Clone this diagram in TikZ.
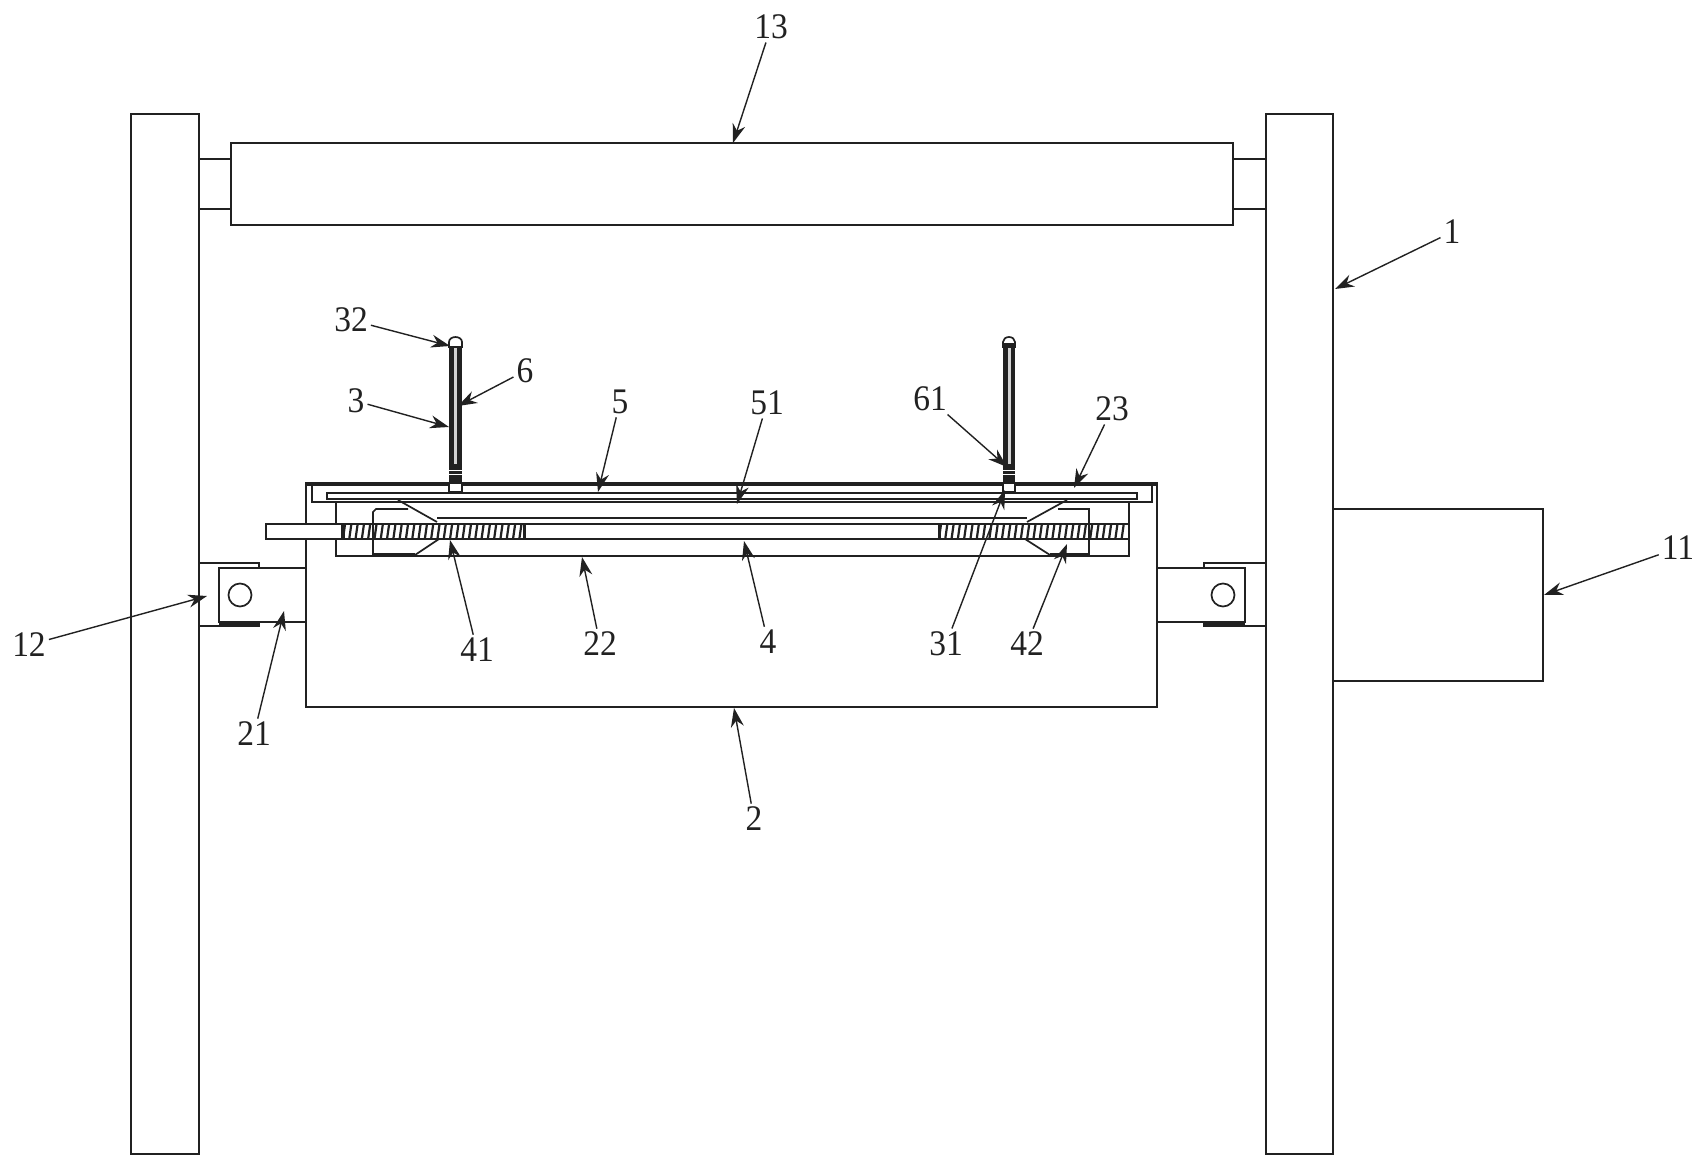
\documentclass[tikz,border=0pt]{standalone}
\usepackage{fontspec}
\setmainfont{Liberation Serif}
\usetikzlibrary{arrows.meta}
\definecolor{ink}{gray}{0.13}
\tikzset{
  part/.style={draw=ink,line width=0.85pt,fill=white},
  edge/.style={draw=ink,line width=0.85pt},
  heavy/.style={draw=ink,line width=1.5pt},
  hatch/.style={draw=ink,line width=1.1pt},
  lab/.style={text=ink,font=\fontsize{18}{18}\selectfont,inner sep=1.5pt,xscale=0.93},
  lead/.style={draw=ink,line width=0.7pt,-{Stealth[length=9.5pt,width=6.5pt]}}
}
\begin{document}
\begin{tikzpicture}[x=0.5pt,y=-0.5pt]
\useasboundingbox[fill=white] (0,0) rectangle (1705,1171);
% posts
\draw[part] (131,114) rectangle (199,1154);
\draw[part] (1266,114) rectangle (1333,1154);
% motor
\draw[part] (1333,509) rectangle (1543,681);
% roller
\draw[part] (199,159) rectangle (231,209);
\draw[part] (1233,159) rectangle (1266,209);
\draw[part] (231,143) rectangle (1233,225);
% left hinge
\draw[edge] (199,563) -- (259,563) -- (259,568);
\draw[edge] (199,626) -- (259,626) -- (259,622);
\draw[part] (306,568) -- (219,568) -- (219,622) -- (306,622);
\draw[heavy] (219,623.5) -- (259,623.5);
\draw[part] (240,595) circle (11.5);
% right hinge
\draw[edge] (1266,563) -- (1204,563) -- (1204,568);
\draw[edge] (1266,626) -- (1204,626) -- (1204,622);
\draw[part] (1157,568) -- (1245,568) -- (1245,622) -- (1157,622);
\draw[heavy] (1245,623.5) -- (1204,623.5);
\draw[part] (1223,595) circle (11.5);
% housing
\draw[part] (306,483) rectangle (1157,707);
\draw[heavy] (306,484.5) -- (1157,484.5);
\draw[edge] (312,486) -- (312,502) -- (1152,502) -- (1152,486);
% plate 5
\draw[part] (327,493) rectangle (1137,499);
% cavity
\draw[edge] (336,502) -- (336,556) -- (1129,556) -- (1129,502);
\draw[edge] (437,518) -- (1027,518);
% sliders
\draw[edge] (398,500) -- (437,522);
\draw[edge] (373,556) -- (373,512) -- (376,509) -- (408,509);
\draw[edge] (415,555) -- (439,539);
\draw[heavy] (373,555) -- (415,555);
\draw[edge] (1067,500) -- (1027,522);
\draw[edge] (1058,509) -- (1089,509) -- (1089,556);
\draw[edge] (1050,555) -- (1025,539);
\draw[heavy] (1050,555) -- (1089,555);
% screw rod
\draw[part] (266,524) rectangle (342,539);
\draw[edge] (342,524) -- (1129,524);
\draw[edge] (342,539) -- (1129,539);
\fill[white] (307,525) rectangle (335,538);
\draw[edge] (306,539) -- (306,568);
\foreach \x in {344,350.3,...,524}{\draw[hatch] (\x+1,524.5) -- (\x-1,538.5);}
\draw[heavy] (343,524) -- (343,539);
\draw[heavy] (524.5,524) -- (524.5,539);
\foreach \x in {940,946.3,...,1129}{\draw[hatch] (\x+1,524.5) -- (\x-1,538.5);}
\draw[heavy] (939,524) -- (939,539);
% left pin
\draw[part] (449,483) rectangle (462,492);
\fill[ink] (449,345) rectangle (462,483);
\fill[gray!35] (454,348) rectangle (457,464);
\draw[draw=white,line width=0.4pt] (449,470) -- (462,470) (449,474) -- (462,474);
\draw[part] (449,347) -- (449,342) arc[start angle=180,end angle=360,x radius=6.5,y radius=5] -- (462,347) -- cycle;
% right pin
\draw[part] (1003,483) rectangle (1015,492);
\fill[ink] (1003,345) rectangle (1015,483);
\fill[gray!35] (1007.5,348) rectangle (1010.5,464);
\draw[draw=white,line width=0.4pt] (1003,470) -- (1015,470) (1003,474) -- (1015,474);
\draw[part] (1003,347) -- (1003,342) arc[start angle=180,end angle=360,x radius=6,y radius=5] -- (1015,347) -- cycle;
\draw[heavy] (1002,345) -- (1016,345);
% labels
\node[lab] (n13) at (771,27) {13};
\node[lab] (n1) at (1452,232) {1};
\node[lab] (n11) at (1678,548) {11};
\node[lab] (n12) at (29,645) {12};
\node[lab] (n21) at (254,734) {21};
\node[lab] (n41) at (477,650) {41};
\node[lab] (n22) at (600,644) {22};
\node[lab] (n4) at (768,642) {4};
\node[lab] (n31) at (946,644) {31};
\node[lab] (n42) at (1027,644) {42};
\node[lab] (n2) at (754,819) {2};
\node[lab] (n32) at (351,320) {32};
\node[lab] (n6) at (525,371) {6};
\node[lab] (n3) at (356,401) {3};
\node[lab] (n5) at (620,402) {5};
\node[lab] (n51) at (767,403) {51};
\node[lab] (n61) at (930,399) {61};
\node[lab] (n23) at (1112,409) {23};
% arrow targets
\coordinate (t13) at (733,143);
\coordinate (t1) at (1335,289);
\coordinate (t11) at (1544,595);
\coordinate (t12) at (207,596);
\coordinate (t21) at (284,611);
\coordinate (t41) at (450,540);
\coordinate (t22) at (582,557);
\coordinate (t4) at (744,541);
\coordinate (t31) at (1005,490);
\coordinate (t42) at (1067,544);
\coordinate (t2) at (734,708);
\coordinate (t32) at (450,346);
\coordinate (t6) at (458,406);
\coordinate (t3) at (449,427);
\coordinate (t5) at (598,492);
\coordinate (t51) at (737,504);
\coordinate (t61) at (1007,467);
\coordinate (t23) at (1074,488);
\foreach \k in {13,1,11,12,21,41,22,4,31,42,2,32,6,3,5,51,61,23}{
  \draw[lead] (n\k) -- (t\k);
}
\end{tikzpicture}
\end{document}
